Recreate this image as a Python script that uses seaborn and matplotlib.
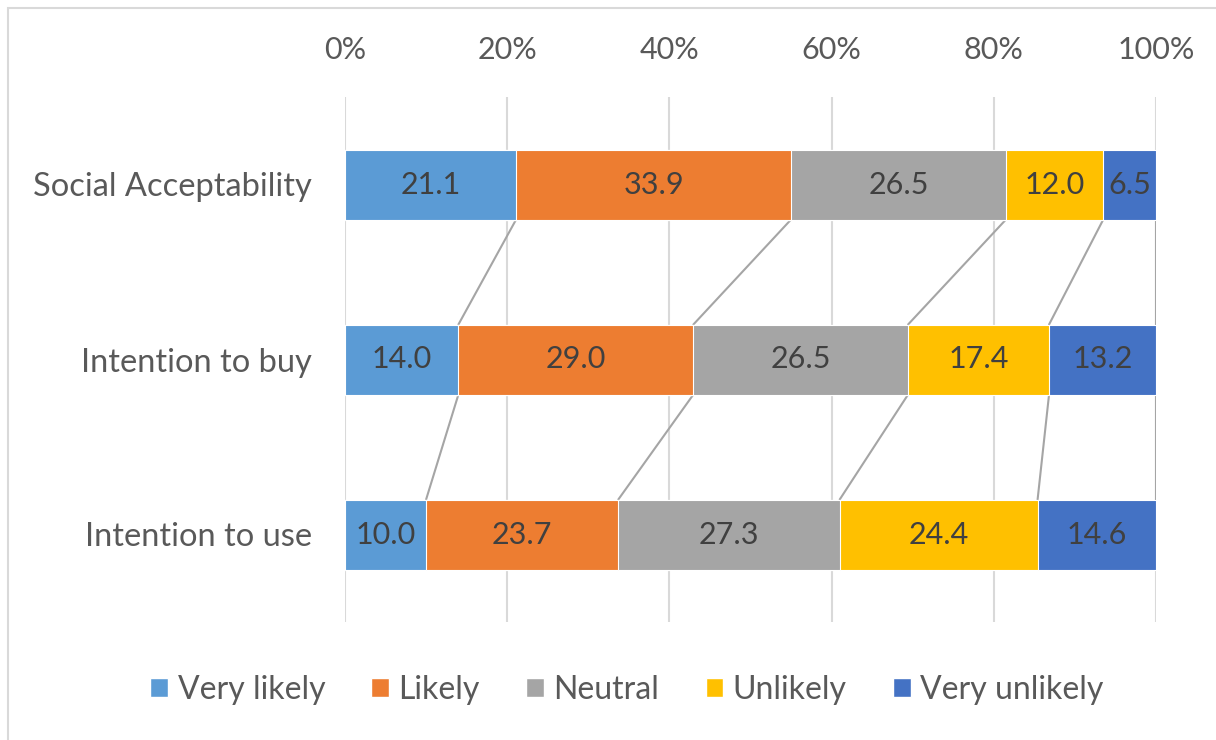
import numpy as np
import pandas as pd
import seaborn as sns
import matplotlib.pyplot as plt
from matplotlib.patches import Rectangle, Patch

# Data
categories = ['Social Acceptability', 'Intention to buy', 'Intention to use']
series = ['Very likely', 'Likely', 'Neutral', 'Unlikely', 'Very unlikely']
very_likely = [21.1, 14.0, 10.0]
likely = [33.9, 29.0, 23.7]
neutral = [26.5, 26.5, 27.3]
unlikely = [12.0, 17.4, 24.4]
very_unlikely = [6.5, 13.2, 14.6]
colors = ['#5B9BD5', '#ED7D31', '#A5A5A5', '#FFC000', '#4472C4']

sns.set_style('white')
plt.rcParams['font.family'] = ['Lato', 'DejaVu Sans']
FS = 22

raw = np.array([very_likely, likely, neutral, unlikely, very_unlikely])
# 100% stacked: normalise each category to its total
share = raw / raw.sum(axis=0) * 100
cum = np.cumsum(share, axis=0)

fig = plt.figure(figsize=(12.16, 7.4), dpi=100)
ax = fig.add_axes([345 / 1216, 1 - 622 / 740, (1156 - 345) / 1216, 525 / 740])

# draw cumulative bars from the longest down so shorter ones sit on top
for k in range(len(series) - 1, -1, -1):
    df = pd.DataFrame({'cat': categories, 'val': cum[k]})
    sns.barplot(data=df, x='val', y='cat', orient='h', color=colors[k],
                width=0.4, edgecolor='white', linewidth=0.8, ax=ax,
                saturation=1, zorder=3)

# value labels in the middle of each segment
for k in range(len(series)):
    for i in range(len(categories)):
        left = cum[k][i] - share[k][i]
        ax.text(left + share[k][i] / 2, i, f'{raw[k][i]:.1f}', ha='center',
                va='center', fontsize=FS, color='#404040', zorder=5)

# series lines between bars
for k in range(len(series)):
    for i in range(len(categories) - 1):
        ax.plot([cum[k][i], cum[k][i + 1]], [i + 0.2, i + 1 - 0.2],
                color='#A5A5A5', lw=1.5, zorder=2)

ax.set_xlim(0, 100)
ax.set_ylim(2.5, -0.5)
ax.set_xticks(np.arange(0, 101, 20))
ax.set_xticklabels([f'{t}%' for t in range(0, 101, 20)])
ax.xaxis.tick_top()
ax.tick_params(axis='x', length=0, pad=24, labelsize=FS, labelcolor='#595959')
ax.tick_params(axis='y', length=0, pad=24, labelsize=23.5, labelcolor='#595959')
ax.set_xlabel('')
ax.set_ylabel('')
ax.grid(axis='x', color='#D9D9D9', lw=1.5, zorder=0)
ax.grid(axis='y', visible=False)
for s in ax.spines.values():
    s.set_visible(False)

handles = [Patch(facecolor=c, label=s) for c, s in zip(colors, series)]
fig.legend(handles=handles, loc='center', ncol=5, frameon=False,
           bbox_to_anchor=(627 / 1216, 1 - 690 / 740), fontsize=23,
           labelcolor='#595959', handlelength=0.55, handleheight=0.55,
           handletextpad=0.3, columnspacing=1.45)

# chart border (only top and left are visible in the crop)
fig.patches.append(Rectangle((8 / 1216, -0.1), 1.2, 1 - 8 / 740 + 0.1,
                             transform=fig.transFigure, fill=False,
                             edgecolor='#D9D9D9', lw=1.5))

fig.savefig('out.png', dpi=100)
